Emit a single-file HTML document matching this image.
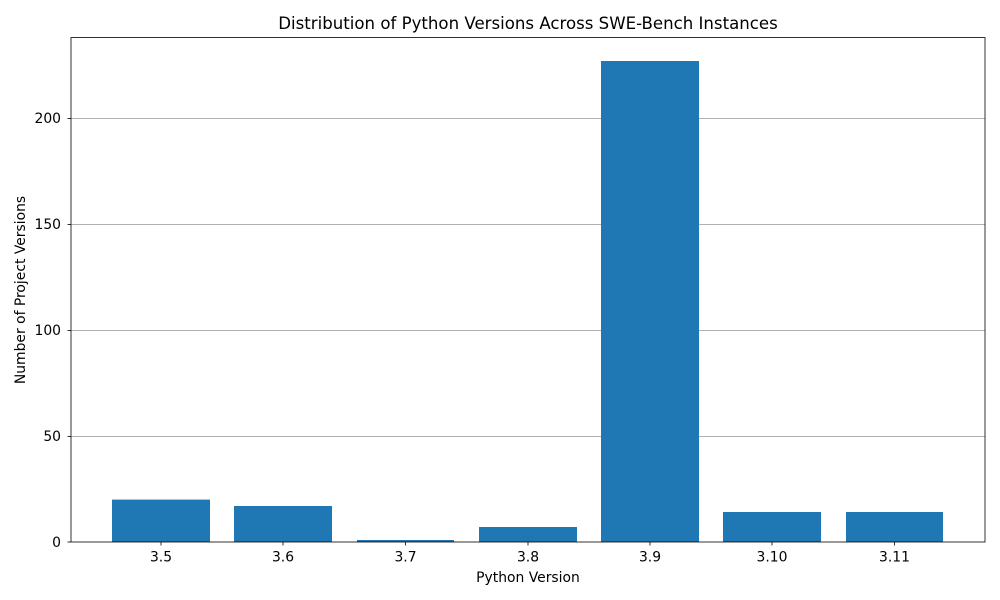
<!DOCTYPE html>
<html><head><meta charset="utf-8"><style>body{margin:0;background:#fff}svg{display:block}</style></head><body>
<svg width="1000" height="600" xmlns="http://www.w3.org/2000/svg" font-family="'DejaVu Sans',sans-serif">
<rect width="1000" height="600" fill="#fff"/>
<g stroke="#b0b0b0" stroke-width="1">
<line x1="71" y1="118.5" x2="985" y2="118.5"/>
<line x1="71" y1="224.5" x2="985" y2="224.5"/>
<line x1="71" y1="330.5" x2="985" y2="330.5"/>
<line x1="71" y1="436.5" x2="985" y2="436.5"/>
</g>
<g fill="#1f77b4">
<rect x="112" y="499.6" width="98" height="42.4"/>
<rect x="234" y="506" width="98" height="36"/>
<rect x="357" y="540" width="97" height="2"/>
<rect x="479" y="527" width="98" height="15"/>
<rect x="601" y="61" width="98" height="481"/>
<rect x="723" y="512" width="98" height="30"/>
<rect x="846" y="512" width="97" height="30"/>
</g>
<rect x="71" y="37.5" width="914" height="504.5" fill="none" stroke="#000" stroke-width="0.8"/>
<g stroke="#000" stroke-width="0.8">
<line x1="67.5" y1="542" x2="71" y2="542"/>
<line x1="67.5" y1="436.5" x2="71" y2="436.5"/>
<line x1="67.5" y1="330.5" x2="71" y2="330.5"/>
<line x1="67.5" y1="224.5" x2="71" y2="224.5"/>
<line x1="67.5" y1="118.5" x2="71" y2="118.5"/>
<line x1="161" y1="542" x2="161" y2="545.5"/>
<line x1="283" y1="542" x2="283" y2="545.5"/>
<line x1="405.5" y1="542" x2="405.5" y2="545.5"/>
<line x1="528" y1="542" x2="528" y2="545.5"/>
<line x1="650" y1="542" x2="650" y2="545.5"/>
<line x1="772" y1="542" x2="772" y2="545.5"/>
<line x1="894.5" y1="542" x2="894.5" y2="545.5"/>
</g>
<g font-size="13.9" fill="#000" text-anchor="end">
<text x="61" y="547">0</text>
<text x="61" y="441">50</text>
<text x="61" y="335">100</text>
<text x="61" y="229">150</text>
<text x="61" y="123">200</text>
</g>
<g font-size="13.9" fill="#000" text-anchor="middle">
<text x="161" y="561.5">3.5</text>
<text x="283" y="561.5">3.6</text>
<text x="405.5" y="561.5">3.7</text>
<text x="528" y="561.5">3.8</text>
<text x="650" y="561.5">3.9</text>
<text x="772" y="561.5">3.10</text>
<text x="894.5" y="561.5">3.11</text>
<text x="528" y="582">Python Version</text>
<text x="528" y="29" font-size="16.6">Distribution of Python Versions Across SWE-Bench Instances</text>
<text transform="translate(25,290) rotate(-90)">Number of Project Versions</text>
</g>
</svg>
</body></html>
